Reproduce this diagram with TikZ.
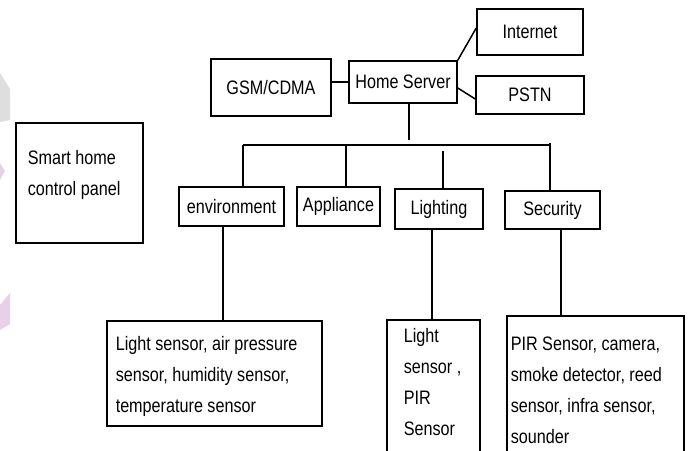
\documentclass[tikz,border=0pt]{standalone}
\usepackage{fontspec}
\setmainfont[FakeStretch=0.83]{Liberation Sans}
\begin{document}
\begin{tikzpicture}[x=1pt,y=-1pt,
  line width=1.5pt,
  box/.style={draw=black, line width=1.5pt, rectangle, inner sep=0pt, font=\fontsize{19.5}{31}\selectfont},
  txt/.style={inner sep=0pt, anchor=base west, font=\fontsize{19.5}{31}\selectfont},
  link/.style={draw=black, line width=1.5pt}]
\useasboundingbox (0,0) rectangle (688,450);
\clip (0,0) rectangle (688,450);
\fill[white] (0,0) rectangle (688,450);
% faint watermark fragments at left edge
\fill[black!13] (0,73) -- (10,89) -- (10,120) -- (0,122) -- cycle;
\fill[violet!18] (0,163) -- (5,171) -- (0,180) -- cycle;
\fill[violet!18] (0,305) -- (10,293) -- (10,324) -- (0,330) -- cycle;

% top row
\node[box, minimum width=120pt, minimum height=57pt] (gsm) at (271,87.5) {GSM/CDMA};
\node[box, minimum width=108pt, minimum height=42pt] (server) at (403,82) {Home Server};
\node[box, minimum width=106pt, minimum height=46pt] (internet) at (530,32) {Internet};
\node[box, minimum width=108pt, minimum height=38pt] (pstn) at (530,95) {\raisebox{-3pt}{PSTN}};

% control panel
\node[box, minimum width=127pt, minimum height=120pt] (panel) at (79.5,183) {};
\node[txt] (paneltext) at (27,164) {\parbox[t]{110pt}{\raggedright Smart home\\control panel}};

% category row
\node[box, minimum width=105pt, minimum height=39pt] (env) at (231.5,206.5) {environment};
\node[box, minimum width=83pt, minimum height=39pt] (appl) at (338.5,206.5) {Appliance};
\node[box, minimum width=88pt, minimum height=40pt] (light) at (439,209) {Lighting};
\node[box, minimum width=95pt, minimum height=38pt] (sec) at (552.5,210) {Security};

% sensor boxes
\node[box, minimum width=215pt, minimum height=105pt] (envs) at (214.5,373.5) {};
\node[txt] (envstext) at (115,350) {\parbox[t]{210pt}{\raggedright Light sensor, air pressure\\sensor, humidity sensor,\\temperature sensor}};
\node[box, minimum width=93pt, minimum height=150pt] (lights) at (433.5,395) {};
\node[txt] (lightstext) at (403,342) {\parbox[t]{80pt}{\raggedright Light\\sensor ,\\PIR\\Sensor}};
\node[box, minimum width=177pt, minimum height=154pt] (secs) at (595.5,393) {};
\node[txt] (secstext) at (510,350) {\parbox[t]{175pt}{\raggedright PIR Sensor, camera,\\smoke detector, reed\\sensor, infra sensor,\\sounder}};

% bus coordinates
\coordinate (bustop) at (409,140);
\coordinate (busL) at (243,145);
\coordinate (busR) at (550,145);
\coordinate (busA) at (346,145);
\coordinate (busLt) at (443,151);
\coordinate (busSec) at (550,143);
\coordinate (envc) at (223,0);
\coordinate (ltc) at (432,0);
\coordinate (secc) at (561,0);

% connectors
\draw[link] (server.west) -- (server.west -| gsm.east);
\draw[link] (server.north east) -- ([yshift=4pt]internet.west);
\draw[link] ([yshift=-6pt]server.east) -- ([yshift=-4pt]pstn.west);
\draw[link] (server.south -| bustop) -- (bustop);
\draw[link] (busL) -- (busR);
\draw[link] (busL) -- (busL |- env.north);
\draw[link] (busA) -- (busA |- appl.north);
\draw[link] (busLt) -- (busLt |- light.north);
\draw[link] (busSec) -- (busSec |- sec.north);
\draw[link] (env.south -| envc) -- (envs.north -| envc);
\draw[link] (light.south -| ltc) -- (lights.north -| ltc);
\draw[link] (sec.south -| secc) -- (secs.north -| secc);
\end{tikzpicture}
\end{document}
